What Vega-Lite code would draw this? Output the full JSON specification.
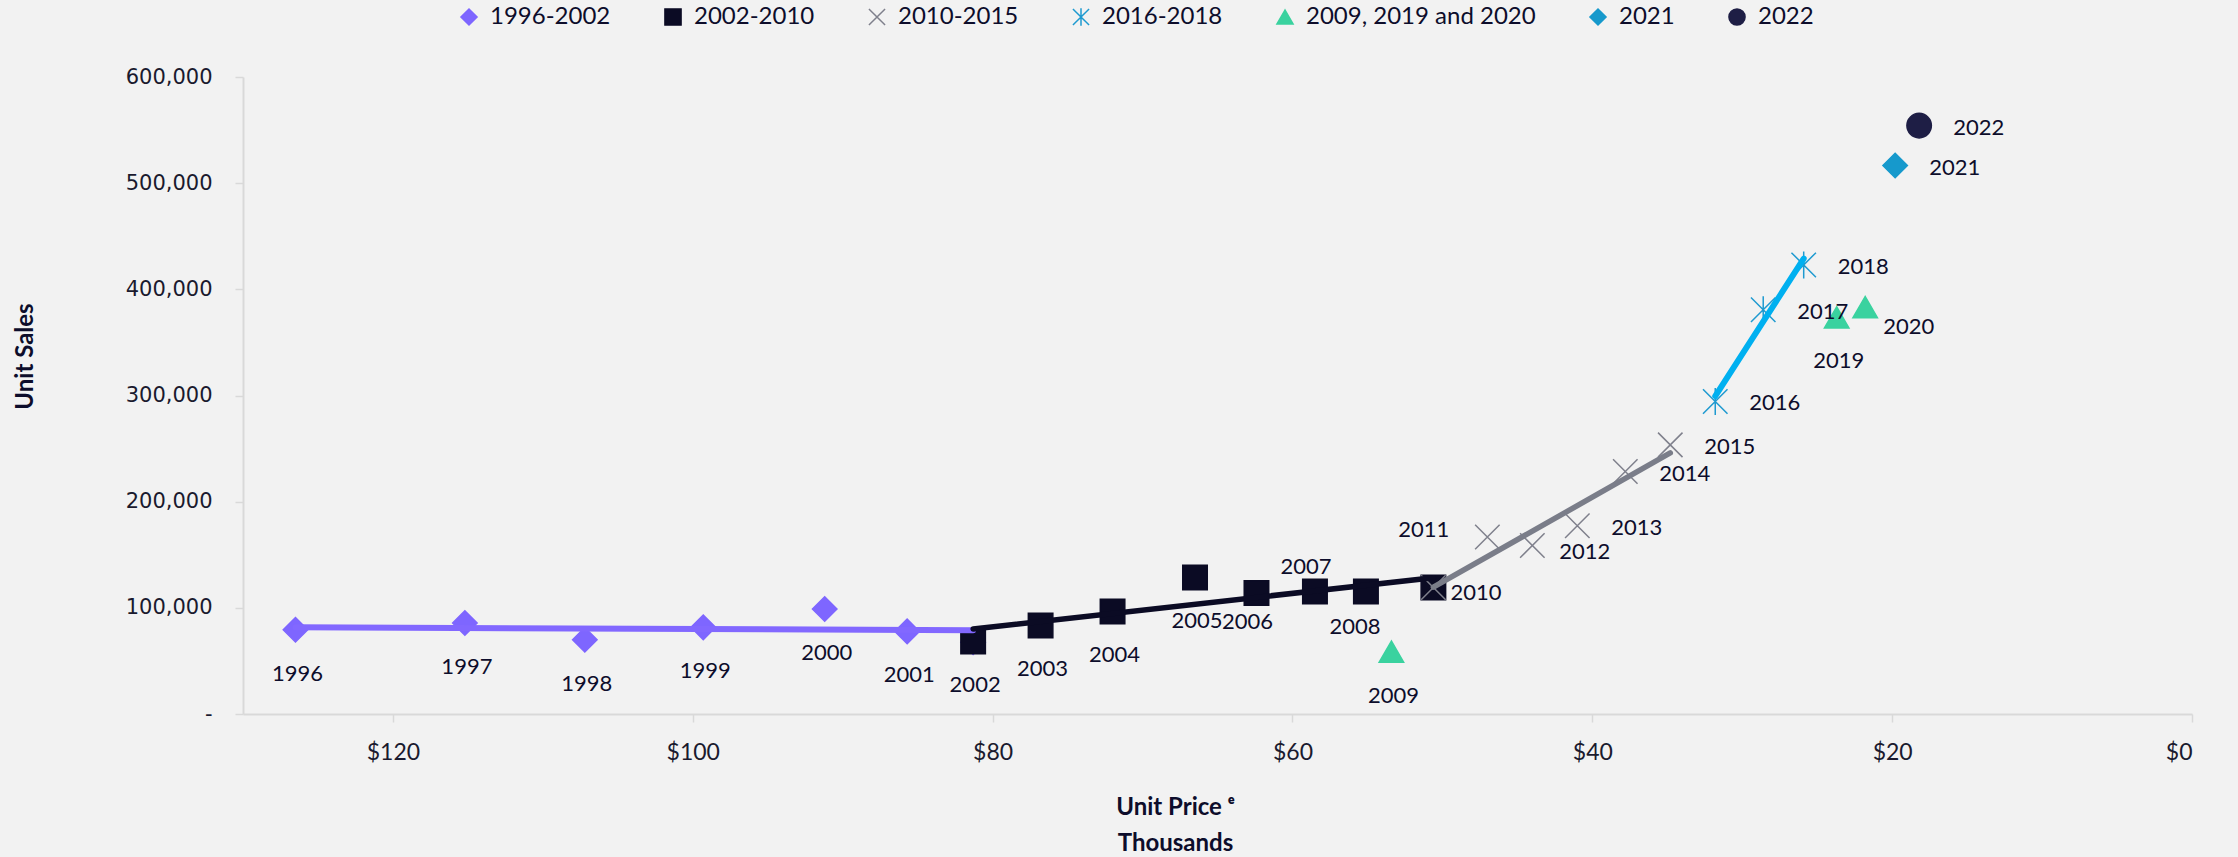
{
  "$schema": "https://vega.github.io/schema/vega-lite/v6.json",
  "width": 1949,
  "height": 637,
  "autosize": {"type": "none"},
  "padding": {"left": 243, "top": 77, "right": 46, "bottom": 143},
  "background": "#F2F2F2",
  "config": {
    "view": {"stroke": null},
    "font": "Lato",
    "legend": {
      "orient": "none",
      "legendX": 214,
      "legendY": -72,
      "direction": "horizontal",
      "gridAlign": "none",
      "title": null,
      "labelFont": "Lato",
      "labelFontSize": 24,
      "labelColor": "#0d0d2b",
      "labelLimit": 400,
      "labelOffset": 9,
      "columnPadding": 50,
      "symbolSize": 260,
      "symbolStrokeWidth": 1.5,
      "padding": 0
    }
  },
  "data": {
    "values": [
      {"series": "1996-2002", "year": 1996, "price": 126.5, "sales": 79400, "label": "1996"},
      {"series": "1996-2002", "year": 1997, "price": 115.2, "sales": 85700, "label": "1997"},
      {"series": "1996-2002", "year": 1998, "price": 107.2, "sales": 70000, "label": "1998"},
      {"series": "1996-2002", "year": 1999, "price": 99.3, "sales": 81600, "label": "1999"},
      {"series": "1996-2002", "year": 2000, "price": 91.2, "sales": 98900, "label": "2000"},
      {"series": "1996-2002", "year": 2001, "price": 85.7, "sales": 77800, "label": "2001"},
      {"series": "1996-2002", "year": 2002, "price": 81.3, "sales": 67600, "label": ""},
      {"series": "2002-2010", "year": 2002, "price": 81.3, "sales": 68400, "label": "2002"},
      {"series": "2002-2010", "year": 2003, "price": 76.8, "sales": 83400, "label": "2003"},
      {"series": "2002-2010", "year": 2004, "price": 72.0, "sales": 96600, "label": "2004"},
      {"series": "2002-2010", "year": 2005, "price": 66.5, "sales": 128600, "label": "2005"},
      {"series": "2002-2010", "year": 2006, "price": 62.4, "sales": 113900, "label": "2006"},
      {"series": "2002-2010", "year": 2007, "price": 58.5, "sales": 115400, "label": "2007"},
      {"series": "2002-2010", "year": 2008, "price": 55.1, "sales": 115400, "label": "2008"},
      {"series": "2002-2010", "year": 2010, "price": 50.6, "sales": 119200, "label": ""},
      {"series": "2010-2015", "year": 2010, "price": 50.6, "sales": 119200, "label": "2010"},
      {"series": "2010-2015", "year": 2011, "price": 47.0, "sales": 166700, "label": "2011"},
      {"series": "2010-2015", "year": 2012, "price": 44.0, "sales": 158700, "label": "2012"},
      {"series": "2010-2015", "year": 2013, "price": 41.0, "sales": 177300, "label": "2013"},
      {"series": "2010-2015", "year": 2014, "price": 37.8, "sales": 228400, "label": "2014"},
      {"series": "2010-2015", "year": 2015, "price": 34.8, "sales": 253500, "label": "2015"},
      {"series": "2016-2018", "year": 2016, "price": 31.8, "sales": 294400, "label": "2016"},
      {"series": "2016-2018", "year": 2017, "price": 28.6, "sales": 380700, "label": "2017"},
      {"series": "2016-2018", "year": 2018, "price": 25.9, "sales": 423000, "label": "2018"},
      {"series": "2009, 2019 and 2020", "year": 2009, "price": 53.4, "sales": 58700, "label": "2009"},
      {"series": "2009, 2019 and 2020", "year": 2019, "price": 23.7, "sales": 373600, "label": "2019"},
      {"series": "2009, 2019 and 2020", "year": 2020, "price": 21.8, "sales": 383200, "label": "2020"},
      {"series": "2021", "year": 2021, "price": 19.8, "sales": 516600, "label": "2021"},
      {"series": "2022", "year": 2022, "price": 18.2, "sales": 554200, "label": "2022"}
    ]
  },
  "encoding": {
    "x": {
      "field": "price",
      "type": "quantitative",
      "scale": {"domain": [0, 130], "reverse": true, "nice": false, "zero": true},
      "axis": {
        "values": [0, 20, 40, 60, 80, 100, 120],
        "labelExpr": "'$' + datum.value",
        "grid": false,
        "domainColor": "#d9d9d9",
        "domainWidth": 2,
        "tickColor": "#d9d9d9",
        "tickWidth": 1.5,
        "tickSize": 8,
        "labelFont": "Lato",
        "labelFontSize": 23,
        "labelColor": "#1a1a2e",
        "labelPadding": 19,
        "title": ["Unit Price ᵉ", "Thousands"],
        "titleFont": "Lato",
        "titleFontSize": 24,
        "titleFontWeight": "bold",
        "titleColor": "#0d0d2b",
        "titleX": 932,
        "titleY": 81,
        "titleAlign": "center",
        "titleBaseline": "top",
        "titleLineHeight": 36
      }
    },
    "y": {
      "field": "sales",
      "type": "quantitative",
      "scale": {"domain": [0, 600000], "nice": false},
      "axis": {
        "values": [0, 100000, 200000, 300000, 400000, 500000, 600000],
        "labelExpr": "datum.value == 0 ? '-\u00a0\u00a0' : format(datum.value, ',')",
        "grid": false,
        "domainColor": "#d9d9d9",
        "domainWidth": 2,
        "tickColor": "#d9d9d9",
        "tickWidth": 1.5,
        "tickSize": 8,
        "labelFont": "DejaVu Sans",
        "labelFontSize": 21,
        "labelColor": "#1a1a2e",
        "labelPadding": 23,
        "title": "Unit Sales",
        "titleFont": "Lato",
        "titleFontSize": 24,
        "titleFontWeight": "bold",
        "titleColor": "#0d0d2b",
        "titleAngle": 270,
        "titleX": -218,
        "titleY": 279,
        "titleAlign": "center",
        "titleBaseline": "middle"
      }
    }
  },
  "layer": [
    {
      "mark": {"type": "point", "filled": true, "opacity": 1, "size": 600, "strokeWidth": 1.5},
      "encoding": {
        "fill": {
          "field": "series", "type": "nominal",
          "scale": {
            "domain": ["1996-2002", "2002-2010", "2010-2015", "2016-2018", "2009, 2019 and 2020", "2021", "2022"],
            "range": ["#7E66FF", "#0B0B24", "transparent", "transparent", "#3AD29F", "#1699CC", "#1E1E45"]
          }
        },
        "stroke": {
          "field": "series", "type": "nominal",
          "scale": {
            "domain": ["1996-2002", "2002-2010", "2010-2015", "2016-2018", "2009, 2019 and 2020", "2021", "2022"],
            "range": ["#7E66FF", "#0B0B24", "#7F808C", "#1E9AD0", "#3AD29F", "#1699CC", "#1E1E45"]
          }
        },
        "shape": {
          "field": "series", "type": "nominal",
          "scale": {
            "domain": ["1996-2002", "2002-2010", "2010-2015", "2016-2018", "2009, 2019 and 2020", "2021", "2022"],
            "range": ["diamond", "square", "M-1,-1L1,1M-1,1L1,-1", "M-1,-1L1,1M-1,1L1,-1M0,-1.1L0,1.1", "triangle-up", "diamond", "circle"]
          }
        }
      }
    },
    {
      "transform": [
        {"filter": {"field": "series", "equal": "1996-2002"}},
        {"regression": "sales", "on": "price"}
      ],
      "mark": {"type": "line", "color": "#8268FF", "strokeWidth": 6, "strokeCap": "round"},
      "encoding": {}
    },
    {
      "transform": [
        {"filter": {"field": "series", "equal": "2002-2010"}},
        {"regression": "sales", "on": "price"}
      ],
      "mark": {"type": "line", "color": "#0B0B24", "strokeWidth": 5.5, "strokeCap": "round"},
      "encoding": {}
    },
    {
      "transform": [
        {"filter": {"field": "series", "equal": "2010-2015"}},
        {"regression": "sales", "on": "price"}
      ],
      "mark": {"type": "line", "color": "#7A7D89", "strokeWidth": 5.5, "strokeCap": "round"},
      "encoding": {}
    },
    {
      "transform": [
        {"filter": {"field": "series", "equal": "2016-2018"}},
        {"regression": "sales", "on": "price"}
      ],
      "mark": {"type": "line", "color": "#00B0F0", "strokeWidth": 6, "strokeCap": "round"},
      "encoding": {}
    },
    {
      "transform": [{"filter": {"field": "label", "oneOf": ["1996", "1997", "1998", "1999", "2000", "2001", "2002", "2003", "2004", "2005", "2009", "2019"]}}],
      "mark": {"type": "text", "font": "Lato", "fontSize": 22, "color": "#0d0d2b", "align": "center", "baseline": "middle", "dx": 2, "dy": 44},
      "encoding": {"text": {"field": "label"}}
    },
    {
      "transform": [{"filter": {"field": "label", "equal": "2006"}}],
      "mark": {"type": "text", "font": "Lato", "fontSize": 22, "color": "#0d0d2b", "align": "center", "baseline": "middle", "dx": -9, "dy": 29},
      "encoding": {"text": {"field": "label"}}
    },
    {
      "transform": [{"filter": {"field": "label", "equal": "2007"}}],
      "mark": {"type": "text", "font": "Lato", "fontSize": 22, "color": "#0d0d2b", "align": "center", "baseline": "middle", "dx": -9, "dy": -24},
      "encoding": {"text": {"field": "label"}}
    },
    {
      "transform": [{"filter": {"field": "label", "equal": "2008"}}],
      "mark": {"type": "text", "font": "Lato", "fontSize": 22, "color": "#0d0d2b", "align": "center", "baseline": "middle", "dx": -11, "dy": 36},
      "encoding": {"text": {"field": "label"}}
    },
    {
      "transform": [{"filter": {"field": "label", "oneOf": ["2013", "2014", "2015", "2016", "2017", "2018", "2021", "2022"]}}],
      "mark": {"type": "text", "font": "Lato", "fontSize": 22, "color": "#0d0d2b", "align": "left", "baseline": "middle", "dx": 34, "dy": 2},
      "encoding": {"text": {"field": "label"}}
    },
    {
      "transform": [{"filter": {"field": "label", "equal": "2012"}}],
      "mark": {"type": "text", "font": "Lato", "fontSize": 22, "color": "#0d0d2b", "align": "left", "baseline": "middle", "dx": 27, "dy": 6},
      "encoding": {"text": {"field": "label"}}
    },
    {
      "transform": [{"filter": {"field": "label", "equal": "2010"}}],
      "mark": {"type": "text", "font": "Lato", "fontSize": 22, "color": "#0d0d2b", "align": "left", "baseline": "middle", "dx": 17, "dy": 6},
      "encoding": {"text": {"field": "label"}}
    },
    {
      "transform": [{"filter": {"field": "label", "equal": "2020"}}],
      "mark": {"type": "text", "font": "Lato", "fontSize": 22, "color": "#0d0d2b", "align": "left", "baseline": "middle", "dx": 18, "dy": 20},
      "encoding": {"text": {"field": "label"}}
    },
    {
      "transform": [{"filter": {"field": "label", "equal": "2011"}}],
      "mark": {"type": "text", "font": "Lato", "fontSize": 22, "color": "#0d0d2b", "align": "right", "baseline": "middle", "dx": -38, "dy": -7},
      "encoding": {"text": {"field": "label"}}
    }
  ]
}
